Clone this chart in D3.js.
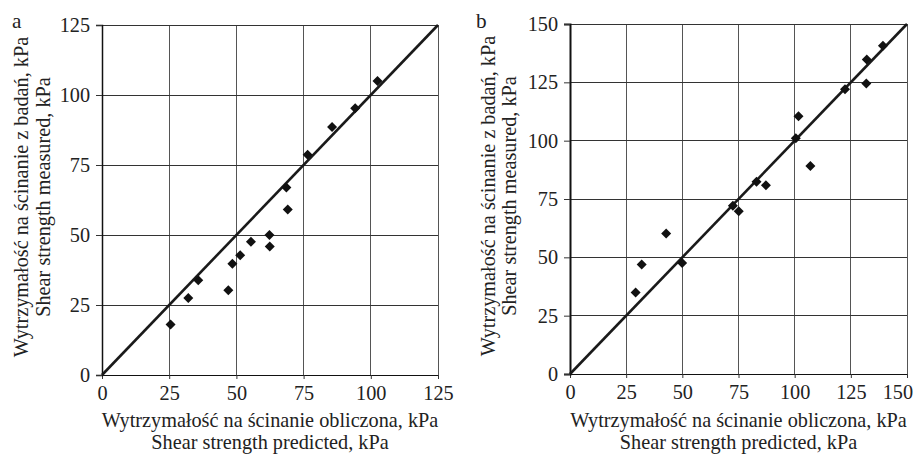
<!DOCTYPE html>
<html><head><meta charset="utf-8">
<script src="https://cdn.jsdelivr.net/npm/d3@7"></script>
<style>
html,body{margin:0;padding:0;background:#fff;}
text{font-family:"Liberation Serif","Times New Roman",serif;fill:#222;}
</style></head>
<body>
<svg id="chart" width="918" height="456"></svg>
<script>
// Panel a data (predicted, measured)
const aPredicted = [25.5, 32.1, 35.8, 47.0, 48.5, 51.4, 55.4, 62.3, 62.4, 68.6, 69.1, 76.5, 85.6, 94.2, 102.5];
const aMeasured  = [18.0, 27.5, 33.8, 30.3, 39.7, 42.8, 47.6, 50.0, 45.9, 67.0, 59.1, 78.7, 88.6, 95.3, 105.0];
const aTicks = [0, 25, 50, 75, 100, 125];
// Panel b data
const bPredicted = [29.2, 31.9, 42.8, 49.9, 72.5, 75.1, 83.0, 87.2, 100.5, 101.7, 107.0, 122.4, 132.1, 131.9, 139.3];
const bMeasured  = [34.9, 46.9, 60.2, 47.6, 72.1, 69.8, 82.4, 80.9, 101.0, 110.5, 89.1, 122.0, 134.8, 124.5, 140.7];
const bTicks = [0, 25, 50, 75, 100, 125, 150];
const xLabelLines = ["Wytrzymałość na ścinanie obliczona, kPa", "Shear strength predicted, kPa"];
const yLabelLines = ["Wytrzymałość na ścinanie z badań, kPa", "Shear strength measured, kPa"];

const svg = d3.select("#chart");

// calibrate font size so the x label's first line is ~337px wide as in the reference
const probe = svg.append("text").attr("font-size",100).text(xLabelLines[0]);
const w100 = probe.node().getComputedTextLength();
probe.remove();
const FS = Math.max(14, Math.min(24, 100*337/w100));

function panel(opts){
  const {x0,x1,y0,y1,max,ticks,px,py,letter,letterX,yAxisW,yLab1,yLab2} = opts;
  const x = d3.scaleLinear().domain([0,max]).range([x0,x1]);
  const y = d3.scaleLinear().domain([0,max]).range([y0,y1]);
  const g = svg.append("g");
  // grid
  g.append("g").selectAll("line").data(ticks.slice(1)).join("line")
    .attr("x1",d=>x(d)).attr("x2",d=>x(d)).attr("y1",y(0)).attr("y2",y(max))
    .attr("stroke","#555").attr("stroke-width",1).attr("shape-rendering","crispEdges");
  g.append("g").selectAll("line").data(ticks.slice(1)).join("line")
    .attr("x1",x(0)).attr("x2",x(max)).attr("y1",d=>y(d)).attr("y2",d=>y(d))
    .attr("stroke","#333").attr("stroke-width",1).attr("shape-rendering","crispEdges");
  // x axis
  const xa = g.append("g").attr("transform",`translate(0,${y0})`)
    .call(d3.axisBottom(x).tickValues(ticks).tickSize(4).tickPadding(7).tickFormat(d3.format("d")));
  xa.select(".domain").attr("stroke","#111").attr("stroke-width",1);
  xa.selectAll(".tick line").attr("stroke","#333");
  xa.selectAll("text").attr("font-size",FS).attr("fill","#222");
  xa.selectAll("text").each(function(){
    const t = d3.select(this);
    const bb = this.getBBox();
    const tr = this.parentNode.transform.baseVal.consolidate().matrix.e;
    const right = tr + bb.x + bb.width;
    if (right > 913) t.attr("dx", (913-right)+"px");
  });
  // y axis
  const ya = g.append("g").attr("transform",`translate(${x0},0)`)
    .call(d3.axisLeft(y).tickValues(ticks).tickSize(6).tickPadding(6).tickFormat(d3.format("d")));
  ya.select(".domain").attr("stroke","#111").attr("stroke-width",yAxisW);
  ya.selectAll(".tick line").attr("stroke","#333");
  ya.selectAll("text").attr("font-size",FS).attr("fill","#222");
  // 1:1 line
  g.append("line").attr("x1",x(0)).attr("y1",y(0)).attr("x2",x(max)).attr("y2",y(max))
    .attr("stroke","#1a1a1a").attr("stroke-width",2.6);
  // points
  g.append("g").selectAll("path").data(px.map((v,i)=>[v,py[i]])).join("path")
    .attr("d", d3.symbol().type(d3.symbolSquare).size(50))
    .attr("transform", d=>`translate(${x(d[0])},${y(d[1])}) rotate(45)`)
    .attr("fill","#111");
  // x label
  const cx = (x0+x1)/2;
  g.append("text").attr("x",cx).attr("y",427).attr("text-anchor","middle").attr("font-size",FS).text(xLabelLines[0]);
  g.append("text").attr("x",cx).attr("y",449).attr("text-anchor","middle").attr("font-size",FS).text(xLabelLines[1]);
  // y label
  const cy = (y0+y1)/2 - 3;
  g.append("text").attr("transform",`translate(${yLab1},${cy}) rotate(-90)`).attr("text-anchor","middle").attr("font-size",FS).text(yLabelLines[0]);
  g.append("text").attr("transform",`translate(${yLab2},${cy}) rotate(-90)`).attr("text-anchor","middle").attr("font-size",FS).text(yLabelLines[1]);
  // letter
  g.append("text").attr("x",letterX).attr("y",28).attr("font-size",FS+1).text(letter);
}

panel({x0:102,x1:438,y0:375,y1:25,max:125,ticks:aTicks,px:aPredicted,py:aMeasured,letter:"a",letterX:12,yAxisW:1.5,yLab1:28,yLab2:50});
panel({x0:570,x1:907,y0:374,y1:24,max:150,ticks:bTicks,px:bPredicted,py:bMeasured,letter:"b",letterX:476,yAxisW:2,yLab1:495,yLab2:516});
</script>
</body></html>
